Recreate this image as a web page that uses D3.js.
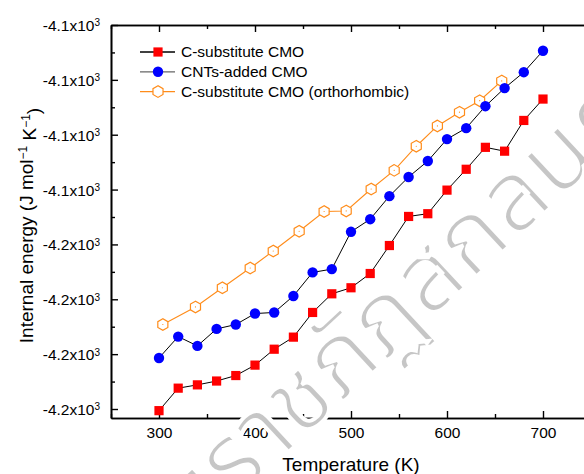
<!DOCTYPE html>
<html>
<head>
<meta charset="utf-8">
<script src="https://cdn.jsdelivr.net/npm/d3@7"></script>
<style>
  body { margin: 0; background: #fff; }
  svg { display: block; font-family: "Liberation Sans", Arial, sans-serif; }
</style>
</head>
<body>
<div id="chart"></div>
<script>
// Internal energy vs temperature

// data
const tempSquare = [300, 320, 340, 360, 380, 400, 420, 440, 460, 480, 500, 520, 540, 560, 580, 600, 620, 640, 660, 680, 700];
const energySubst = [-4180.3, -4176.2, -4175.6, -4174.9, -4173.9, -4172.0, -4169.1, -4166.9, -4162.4, -4159.0, -4157.9,
                     -4155.3, -4150.2, -4144.9, -4144.4, -4140.1, -4136.3, -4132.3, -4133.0, -4127.4, -4123.5];
const energyCNT = [-4170.7, -4166.8, -4168.5, -4165.4, -4164.6, -4162.6, -4162.4, -4159.4, -4155.1, -4154.5, -4147.7,
                   -4145.4, -4141.2, -4137.7, -4134.8, -4130.8, -4128.8, -4124.8, -4121.5, -4118.6, -4114.7];
const tempOrtho = [304, 338, 366, 395, 419, 446, 472, 495, 521, 545, 568, 590, 613, 634, 657];
const energyOrtho = [-4164.6, -4161.4, -4157.9, -4154.3, -4151.2, -4147.6, -4144.0, -4143.9, -4139.9, -4136.5,
                     -4132.1, -4128.4, -4125.9, -4123.8, -4120.2];

const seriesNames = ["C-substitute CMO", "CNTs-added CMO", "C-substitute CMO (orthorhombic)"];
const xTicks = [300, 400, 500, 600, 700];
const xMinorTicks = [250, 350, 450, 550, 650, 750];
const yTicks = [-4110, -4120, -4130, -4140, -4150, -4160, -4170, -4180];
const yTickLabels = ["-4.1", "-4.1", "-4.1", "-4.1", "-4.2", "-4.2", "-4.2", "-4.2"];
const yMinorTicks = [-4115, -4125, -4135, -4145, -4155, -4165, -4175];
const watermark = "ัยราชภัฏสกลนคร";

const margin = {top: 25, right: -7, bottom: 56, left: 111};
const W = 584, H = 474;
const width = 480;
const height = H - margin.top - margin.bottom;

const orange = "#ff8c1a";

const svgRoot = d3.select("#chart")
  .append("svg")
  .attr("width", W)
  .attr("height", H);

const svg = svgRoot.append("g")
  .attr("transform", `translate(${margin.left}, ${margin.top})`);

const x = d3.scaleLinear().domain([250, 750]).range([0, width]);
const y = d3.scaleLinear().domain([-4181.64, -4110]).range([height, 0]);

// watermark (light gray, thin, behind the data)
svgRoot.append("text")
  .attr("transform", "translate(192, 542) rotate(-43)")
  .style("font-family", "'Noto Sans Thai', 'Noto Sans', 'DejaVu Sans', sans-serif")
  .style("font-size", "100px")
  .style("fill", "#c6c6c6")
  .style("stroke", "#fff")
  .style("stroke-width", "4px")
  .text(watermark);

// axes, ticks pointing inward
function styleAxis(g) {
  g.select(".domain").attr("stroke-width", 1.6);
  g.selectAll(".tick line").attr("stroke-width", 1.4);
}

svg.append("g")
  .attr("transform", `translate(0, ${height})`)
  .call(d3.axisBottom(x).tickValues(xTicks).tickSize(-7).tickPadding(9).tickSizeOuter(0))
  .call(styleAxis)
  .selectAll("text")
    .style("font-size", "15.5px")
    .attr("fill", "#000");

svg.append("g")
  .attr("transform", `translate(0, ${height})`)
  .call(d3.axisBottom(x).tickValues(xMinorTicks).tickSize(-4).tickFormat("").tickSizeOuter(0))
  .call(styleAxis);

svg.append("g")
  .call(d3.axisTop(x).tickValues(xTicks).tickSize(-7).tickFormat("").tickSizeOuter(0))
  .call(styleAxis);
svg.append("g")
  .call(d3.axisTop(x).tickValues(xMinorTicks).tickSize(-4).tickFormat("").tickSizeOuter(0))
  .call(styleAxis);

const yAxis = svg.append("g")
  .call(d3.axisLeft(y).tickValues(yTicks).tickSize(-7).tickPadding(11).tickSizeOuter(0)
    .tickFormat((d, i) => yTickLabels[i]))
  .call(styleAxis);

yAxis.selectAll(".tick text")
  .style("font-size", "15.5px")
  .attr("fill", "#000")
  .attr("dy", "0.35em")
  .each(function() {
    const t = d3.select(this);
    const base = t.text();
    t.text(base + "x10");
    t.append("tspan")
      .attr("dy", "-0.45em")
      .style("font-size", "10px")
      .text("3");
  });

svg.append("g")
  .call(d3.axisLeft(y).tickValues(yMinorTicks).tickSize(-4).tickFormat("").tickSizeOuter(0))
  .call(styleAxis);

svg.append("g")
  .attr("transform", `translate(${width}, 0)`)
  .call(d3.axisRight(y).tickValues(yTicks).tickSize(-7).tickFormat("").tickSizeOuter(0))
  .call(styleAxis);
svg.append("g")
  .attr("transform", `translate(${width}, 0)`)
  .call(d3.axisRight(y).tickValues(yMinorTicks).tickSize(-4).tickFormat("").tickSizeOuter(0))
  .call(styleAxis);

// axis titles
svg.append("text")
  .attr("x", width / 2)
  .attr("y", height + 53)
  .attr("text-anchor", "middle")
  .style("font-size", "19px")
  .text("Temperature (K)");

const yTitle = svg.append("text")
  .attr("transform", `translate(${26 - margin.left}, ${height / 2 + 4}) rotate(-90)`)
  .attr("text-anchor", "middle")
  .attr("dy", "0.35em")
  .style("font-size", "19px");
yTitle.append("tspan").text("Internal energy (J mol");
yTitle.append("tspan").attr("dy", "-0.5em").style("font-size", "12px").text("\u22121");
yTitle.append("tspan").attr("dy", "0.5em").text(" K");
yTitle.append("tspan").attr("dy", "-0.5em").style("font-size", "12px").text("\u22121");
yTitle.append("tspan").attr("dy", "0.5em").text(")");

// hexagon path, pointy top
function hexPath(r) {
  const pts = d3.range(6).map(i => {
    const a = Math.PI / 2 + i * Math.PI / 3;
    return [r * Math.cos(a), -r * Math.sin(a)];
  });
  return "M" + pts.map(p => p.join(",")).join("L") + "Z";
}

const line = d3.line();

// lines
const ptsSubst = tempSquare.map((t, i) => [x(t), y(energySubst[i])]);
const ptsCNT = tempSquare.map((t, i) => [x(t), y(energyCNT[i])]);
const ptsOrtho = tempOrtho.map((t, i) => [x(t), y(energyOrtho[i])]);

svg.append("path").attr("d", line(ptsOrtho)).attr("fill", "none").attr("stroke", orange).attr("stroke-width", 1.1);
svg.append("path").attr("d", line(ptsCNT)).attr("fill", "none").attr("stroke", "#000").attr("stroke-width", 1);
svg.append("path").attr("d", line(ptsSubst)).attr("fill", "none").attr("stroke", "#000").attr("stroke-width", 1);

// markers
svg.selectAll(".hex")
  .data(ptsOrtho)
  .join("path")
    .attr("class", "hex")
    .attr("transform", d => `translate(${d[0]}, ${d[1]})`)
    .attr("d", hexPath(5.8))
    .attr("fill", "#fff")
    .attr("stroke", orange)
    .attr("stroke-width", 1.2);
svg.selectAll(".hexdot")
  .data(ptsOrtho)
  .join("circle")
    .attr("class", "hexdot")
    .attr("cx", d => d[0])
    .attr("cy", d => d[1])
    .attr("r", 0.6)
    .attr("fill", orange);

svg.selectAll(".dot")
  .data(ptsCNT)
  .join("circle")
    .attr("class", "dot")
    .attr("cx", d => d[0])
    .attr("cy", d => d[1])
    .attr("r", 5.2)
    .attr("fill", "#0000ff");

svg.selectAll(".sq")
  .data(ptsSubst)
  .join("rect")
    .attr("class", "sq")
    .attr("x", d => d[0] - 4.6)
    .attr("y", d => d[1] - 4.6)
    .attr("width", 9.2)
    .attr("height", 9.2)
    .attr("fill", "#ff0000");

// legend
const legend = svgRoot.append("g").attr("transform", "translate(140, 52)");
const legendLine = ["#000", "#666", orange];
seriesNames.forEach((name, i) => {
  const g = legend.append("g").attr("transform", `translate(0, ${i * 19.8})`);
  g.append("line").attr("x1", 0).attr("x2", 35).attr("y1", 0).attr("y2", 0)
    .attr("stroke", legendLine[i]).attr("stroke-width", 1.3);
  if (i === 0) {
    g.append("rect").attr("x", 18 - 4.6).attr("y", -4.6).attr("width", 9.2).attr("height", 9.2).attr("fill", "#ff0000");
  } else if (i === 1) {
    g.append("circle").attr("cx", 18).attr("cy", 0).attr("r", 5.2).attr("fill", "#0000ff");
  } else {
    g.append("path").attr("transform", "translate(18, 0)").attr("d", hexPath(5.8))
      .attr("fill", "#fff").attr("stroke", orange).attr("stroke-width", 1.2);
  }
  g.append("text")
    .attr("x", 41)
    .attr("y", 0)
    .attr("dy", "0.35em")
    .style("font-size", "15.5px")
    .text(name);
});
</script>
</body>
</html>
